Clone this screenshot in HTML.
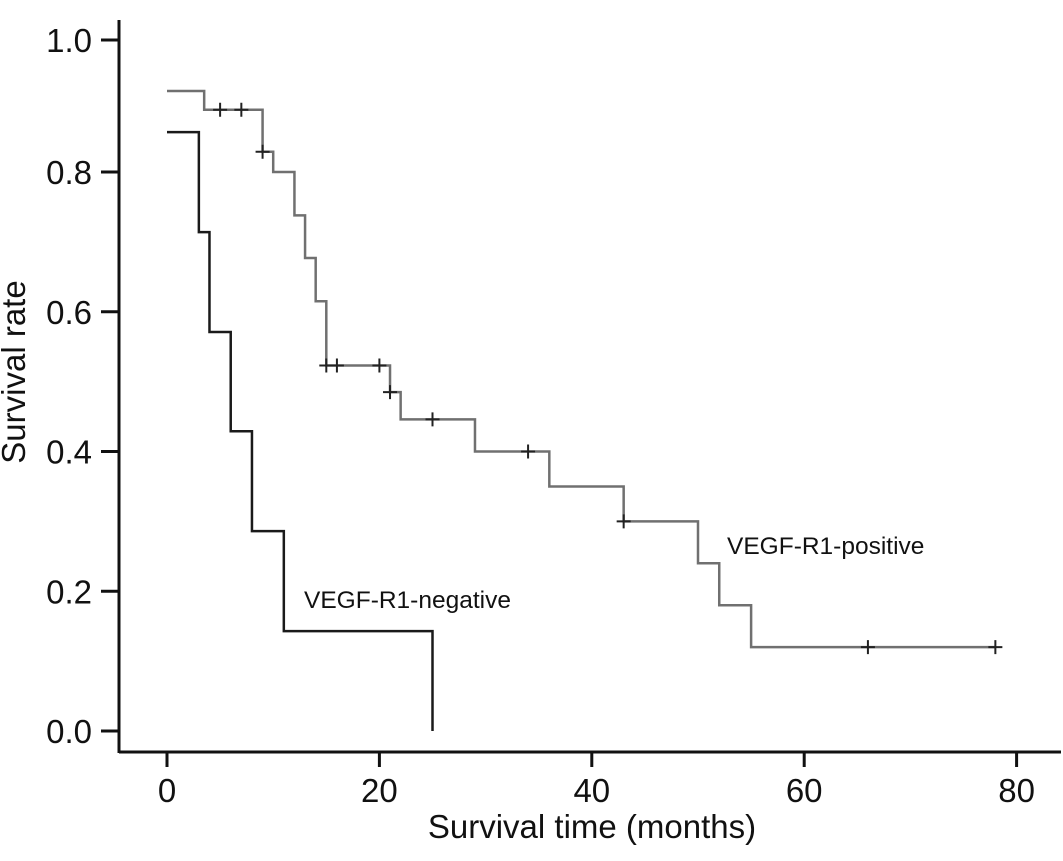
<!DOCTYPE html>
<html><head><meta charset="utf-8"><style>
body{margin:0;background:#fff}
svg{display:block;font-family:"Liberation Sans",Arial,sans-serif}
</style></head><body>
<svg id="chart" width="1063" height="861"></svg>
<script>
const xTicks=[0,20,40,60,80];
const yTicks=[0.0,0.2,0.4,0.6,0.8,1.0];
const negTimes=[0,3,4,6,8,11,25];
const negSurv=[0.857,0.714,0.571,0.429,0.286,0.143,0];
const posTimes=[0,3.5,9,10,12,13,14,15,21,22,29,36,43,50,52,55,78];
const posSurv=[0.916,0.889,0.829,0.80,0.738,0.677,0.615,0.523,0.485,0.446,0.40,0.35,0.30,0.24,0.18,0.12,0.12];
const posCensorT=[5,7,9,15,16,20,21,25,34,43,66,78];
const posCensorS=[0.889,0.889,0.829,0.523,0.523,0.523,0.485,0.446,0.40,0.30,0.12,0.12];

const NS='http://www.w3.org/2000/svg';
const svg=document.getElementById('chart');
const X=t=>167+t*10.62;
const Y=s=>731-s*698.75;
function el(tag,attrs,parent){const e=document.createElementNS(NS,tag);for(const k in attrs)e.setAttribute(k,attrs[k]);(parent||svg).appendChild(e);return e;}

const yAxis=el('line',{x1:119,y1:20,x2:119,y2:753,stroke:'#111','stroke-width':3});


const xAxis=el('line',{x1:119,y1:752,x2:1061,y2:752,stroke:'#111','stroke-width':3});



yTicks.forEach(v=>{
  const y=v===1?40:Y(v);
  const t=el('line',{x1:101,y1:y,x2:119,y2:y,stroke:'#111','stroke-width':3});
  
  
  const l=el('text',{x:92,y:y+12,'font-size':33,'text-anchor':'end',fill:'#111'});
  l.textContent=v.toFixed(1);
  
  
});
xTicks.forEach(v=>{
  const x=X(v);
  const t=el('line',{x1:x,y1:752,x2:x,y2:767,stroke:'#111','stroke-width':3});
  
  
  const l=el('text',{x:x,y:802,'font-size':33,'text-anchor':'middle',fill:'#111'});
  l.textContent=v;
  
  
});
const xt=el('text',{x:592,y:838,'font-size':33,'text-anchor':'middle',fill:'#111'});
xt.textContent='Survival time (months)';


const yt=el('text',{x:0,y:0,'font-size':33,'text-anchor':'middle',fill:'#111',transform:'translate(25,372) rotate(-90)'});
yt.textContent='Survival rate';



function stepPath(times,surv){
  let d='M'+X(times[0])+','+Y(surv[0]);
  for(let i=1;i<times.length;i++){d+=' H'+X(times[i])+' V'+Y(surv[i]);}
  return d;
}
const neg=el('path',{d:stepPath(negTimes,negSurv),fill:'none',stroke:'#1a1a1a','stroke-width':2.5});


const pos=el('path',{d:stepPath(posTimes,posSurv),fill:'none',stroke:'#707070','stroke-width':2.5});



posCensorT.forEach((t,i)=>{
  const x=X(t),y=Y(posCensorS[i]);
  const c=el('path',{d:`M${x-7},${y} H${x+7} M${x},${y-7} V${y+7}`,stroke:'#222','stroke-width':2,fill:'none'});
  
  
});

const ln=el('text',{x:304,y:608,'font-size':24.5,fill:'#111'});
ln.textContent='VEGF-R1-negative';


const lp=el('text',{x:727,y:554,'font-size':24.5,fill:'#111'});
lp.textContent='VEGF-R1-positive';


</script>
</body></html>
